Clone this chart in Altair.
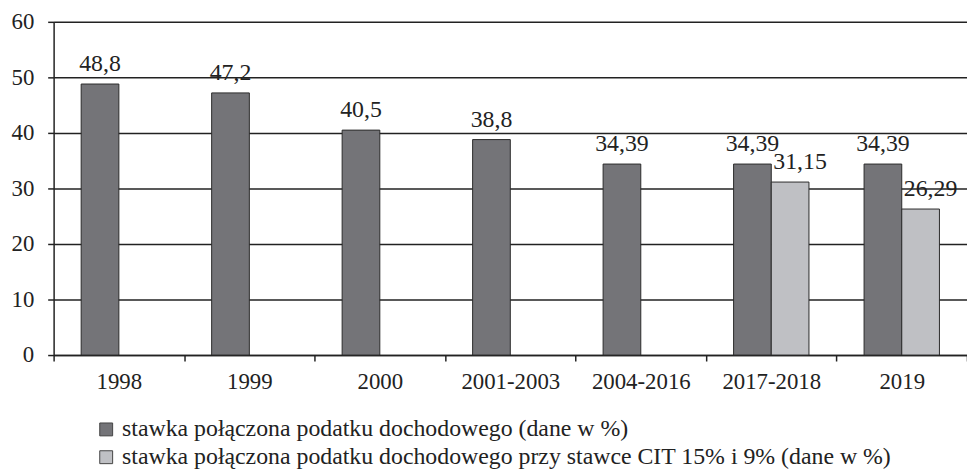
import altair as alt
import pandas as pd

categories = ["1998", "1999", "2000", "2001-2003", "2004-2016", "2017-2018", "2019"]
series_names = [
    "stawka połączona podatku dochodowego (dane w %)",
    "stawka połączona podatku dochodowego przy stawce CIT 15% i 9% (dane w %)",
]
series1 = [48.8, 47.2, 40.5, 38.8, 34.39, 34.39, 34.39]
series2 = [None, None, None, None, None, 31.15, 26.29]
y_ticks = [0, 10, 20, 30, 40, 50, 60]
colors = ["#747478", "#bfc0c4"]

rows = []
for cat, a, b in zip(categories, series1, series2):
    for name, v in ((series_names[0], a), (series_names[1], b)):
        if v is not None:
            rows.append({"cat": cat, "series": name, "value": v,
                         "label": ("%g" % v).replace(".", ",")})
df = pd.DataFrame(rows)

FONT = "Liberation Serif"

x_enc = alt.X("cat:N", sort=categories,
              scale=alt.Scale(paddingInner=0, paddingOuter=0),
              axis=alt.Axis(title=None, labelAngle=0, tickBand="extent",
                            labelFont=FONT, labelFontSize=23, labelColor="#222",
                            labelPadding=10, tickSize=6, tickColor="#222",
                            domainColor="#222", domainWidth=1.5, tickWidth=1.5))
xoff_enc = alt.XOffset("series:N", sort=series_names,
                       scale=alt.Scale(paddingOuter=0.731, paddingInner=0))
y_enc = alt.Y("value:Q", scale=alt.Scale(domain=[0, 60], nice=False),
              axis=alt.Axis(title=None, values=y_ticks, grid=True,
                            gridColor="#222", gridWidth=1.5,
                            labelFont=FONT, labelFontSize=23, labelColor="#222",
                            labelPadding=14, tickSize=6, tickColor="#222",
                            tickWidth=1.5, domainColor="#222", domainWidth=1.5))

base = alt.Chart(df)

bars = base.mark_bar(stroke="#2b2b2b", strokeWidth=1).encode(
    x=x_enc, xOffset=xoff_enc, y=y_enc,
    color=alt.Color("series:N", sort=series_names,
                    scale=alt.Scale(domain=series_names, range=colors),
                    legend=alt.Legend(title=None, orient="none", legendX=41, legendY=399,
                                      direction="vertical", symbolType="square",
                                      symbolSize=169, symbolStrokeColor="#444",
                                      symbolStrokeWidth=1,
                                      labelFont=FONT, labelFontSize=24, labelColor="#222",
                                      labelLimit=0, rowPadding=4, labelOffset=4)),
)

text1 = base.transform_filter(alt.datum.series == series_names[0]).mark_text(
    baseline="alphabetic", dy=-13, font=FONT, fontSize=24, color="#222"
).encode(x=x_enc, xOffset=xoff_enc, y=y_enc, text="label:N")

text2 = base.transform_filter(alt.datum.series == series_names[1]).mark_text(
    baseline="alphabetic", dy=-13, dx=10, font=FONT, fontSize=24, color="#222"
).encode(x=x_enc, xOffset=xoff_enc, y=y_enc, text="label:N")

chart = alt.layer(bars, text1, text2).properties(
    width=921, height=336,
    autosize=alt.AutoSizeParams(type="none"),
    padding={"left": 46, "top": 12, "right": 0, "bottom": 118},
).configure_view(stroke=None)

chart.save("out.html", embed_options={"renderer": "svg", "actions": False})
